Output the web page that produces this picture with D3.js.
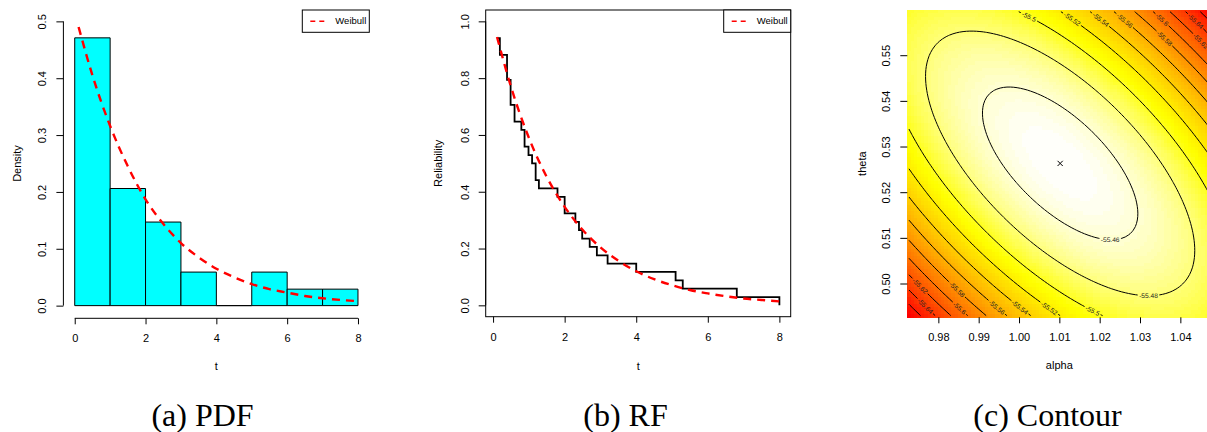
<!DOCTYPE html>
<html>
<head>
<meta charset="utf-8">
<script src="https://cdn.jsdelivr.net/npm/d3@7"></script>
<style>
  body { margin: 0; background: #fff; }
  svg { display: block; font-family: "Liberation Sans", Arial, sans-serif; }
</style>
</head>
<body>
<svg id="fig" width="1207" height="432"></svg>
<script>
// ---- data ----
const histBreaks = [0, 1, 2, 3, 4, 5, 6, 7, 8];
const histDensity = [0.471, 0.206, 0.147, 0.059, 0, 0.059, 0.029, 0.029];

// fitted Weibull curves (read at these t)
const fitTimes = [0.11, 0.5, 1, 1.5, 2, 2.5, 3, 3.5, 4, 4.5, 5, 5.5, 6, 6.5, 7, 7.5, 8];
const fitPdf = [0.490, 0.405, 0.316, 0.245, 0.187, 0.144, 0.110, 0.085, 0.065, 0.050, 0.038, 0.029, 0.023, 0.017, 0.013, 0.010, 0.008];
const fitRel = [0.945, 0.770, 0.590, 0.452, 0.347, 0.266, 0.204, 0.157, 0.120, 0.092, 0.071, 0.054, 0.042, 0.032, 0.024, 0.019, 0.014];

// empirical reliability (step function)
const stepTimes = [0.11, 0.19, 0.39, 0.49, 0.60, 0.79, 0.88, 0.99, 1.09, 1.19, 1.28, 1.80, 2.00, 2.30, 2.40, 2.49, 2.70, 2.90, 3.20, 4.00, 5.10, 5.30, 6.81, 8.00];
const stepRel = [0.941, 0.882, 0.794, 0.706, 0.647, 0.618, 0.559, 0.529, 0.500, 0.441, 0.412, 0.382, 0.324, 0.294, 0.265, 0.235, 0.206, 0.176, 0.147, 0.118, 0.088, 0.059, 0.029, 0.000];

// log-likelihood surface around the MLE
const alphaRange = [0.9723, 1.0477];
const thetaRange = [0.4926, 0.5599];
const mleAlpha = 1.0102, mleTheta = 0.5263;
const maxLogLik = -55.45;
const infoMatrix = [[95, 72], [72, 126]];
const contourLevels = [-55.68, -55.66, -55.64, -55.62, -55.6, -55.58, -55.56, -55.54, -55.52, -55.5, -55.48, -55.46];

const tTicks = [0, 2, 4, 6, 8];
const densityTicks = [0, 0.1, 0.2, 0.3, 0.4, 0.5];
const relTicks = [0, 0.2, 0.4, 0.6, 0.8, 1.0];
const alphaTicks = [0.98, 0.99, 1.00, 1.01, 1.02, 1.03, 1.04];
const thetaTicks = [0.50, 0.51, 0.52, 0.53, 0.54, 0.55];
const captions = ["(a) PDF", "(b) RF", "(c) Contour"];

const svg = d3.select("#fig");
const red = "#FF0000";

function leftAxis(g, scale, ticks, fmt, x) {
  let a = g.append("g").attr("transform", `translate(${x},0)`)
    .call(d3.axisLeft(scale).tickValues(ticks).tickFormat(fmt).tickSize(7).tickSizeOuter(0));
  a.select(".domain").remove();
  a.append("line").attr("y1", scale(ticks[0])).attr("y2", scale(ticks[ticks.length - 1]))
    .attr("stroke", "#000");
  a.selectAll("text").attr("x", null).attr("dy", "0.35em")
    .attr("transform", "translate(-21,0) rotate(-90)")
    .attr("text-anchor", "middle").attr("font-size", 11).attr("font-family", null).attr("fill", "#000");
  a.selectAll(".tick line").attr("stroke", "#000");
  return a;
}

function bottomAxis(g, scale, ticks, fmt, y, line) {
  let a = g.append("g").attr("transform", `translate(0,${y})`)
    .call(d3.axisBottom(scale).tickValues(ticks).tickFormat(fmt).tickSize(6).tickSizeOuter(0));
  a.select(".domain").remove();
  if (line) {
    a.append("line").attr("x1", scale(ticks[0])).attr("x2", scale(ticks[ticks.length - 1]))
      .attr("stroke", "#000");
  }
  a.selectAll("text").attr("y", 20).attr("dy", "0.35em")
    .attr("font-size", 11).attr("font-family", null).attr("fill", "#000");
  a.selectAll(".tick line").attr("stroke", "#000");
  return a;
}

function yTitle(g, text, x, y) {
  g.append("text").attr("transform", `translate(${x},${y}) rotate(-90)`)
    .attr("text-anchor", "middle").attr("dy", "0.35em").attr("font-size", 11).text(text);
}
function xTitle(g, text, x, y) {
  g.append("text").attr("x", x).attr("y", y).attr("text-anchor", "middle")
    .attr("dy", "0.35em").attr("font-size", 11).text(text);
}

function legend(g, right, top) {
  let w = 67, h = 22.3, x = right - w;
  g.append("rect").attr("x", x).attr("y", top).attr("width", w).attr("height", h)
    .attr("fill", "#fff").attr("stroke", "#000");
  g.append("line").attr("x1", x + 8).attr("x2", x + 24).attr("y1", top + h / 2).attr("y2", top + h / 2)
    .attr("stroke", red).attr("stroke-width", 1.5).attr("stroke-dasharray", "5,4");
  g.append("text").attr("x", x + 33).attr("y", top + h / 2).attr("dy", "0.35em")
    .attr("font-size", 9.5).text("Weibull");
}

// ---------------- (a) PDF ----------------
{
  const x0 = 63.4, x1 = 369.3, y0 = 10, y1 = 317;
  const x = d3.scaleLinear().domain([-0.32, 8.32]).range([x0, x1]);
  const y = d3.scaleLinear().domain([-0.02, 0.52]).range([y1, y0]);
  const g = svg.append("g");

  g.selectAll("path.bar").data(histDensity).join("path")
    .attr("class", "bar")
    .attr("d", (d, i) => `M${x(histBreaks[i])},${y(0)}V${y(d)}H${x(histBreaks[i + 1])}V${y(0)}Z`)
    .attr("fill", "#00FFFF").attr("stroke", "#000").attr("stroke-width", 1);

  const line = d3.line().x((d, i) => x(fitTimes[i])).y(d => y(d)).curve(d3.curveMonotoneX);
  g.append("path").attr("d", line(fitPdf)).attr("fill", "none")
    .attr("stroke", red).attr("stroke-width", 2.4).attr("stroke-dasharray", "8,6");

  leftAxis(g, y, densityTicks, d3.format(".1f"), x0);
  bottomAxis(g, x, tTicks, d3.format("d"), 318.3, true);
  yTitle(g, "Density", 16.7, (y0 + y1) / 2);
  xTitle(g, "t", (x0 + x1) / 2, 366);
  legend(g, x1, y0);
}

// ---------------- (b) RF ----------------
{
  const x0 = 485.7, x1 = 790.7, y0 = 10, y1 = 316.7;
  const x = d3.scaleLinear().domain([-0.206, 8.316]).range([x0, x1]);
  const y = d3.scaleLinear().domain([-0.04, 1.04]).range([y1, y0]);
  const g = svg.append("g");

  const step = d3.line().x((d, i) => x(stepTimes[i])).y(d => y(d)).curve(d3.curveStepAfter);
  g.append("path").attr("d", step(stepRel)).attr("fill", "none")
    .attr("stroke", "#000").attr("stroke-width", 1.8);

  const line = d3.line().x((d, i) => x(fitTimes[i])).y(d => y(d)).curve(d3.curveMonotoneX);
  g.append("path").attr("d", line(fitRel)).attr("fill", "none")
    .attr("stroke", red).attr("stroke-width", 2.4).attr("stroke-dasharray", "8,6");

  g.append("rect").attr("x", x0).attr("y", y0).attr("width", x1 - x0).attr("height", y1 - y0)
    .attr("fill", "none").attr("stroke", "#000");

  leftAxis(g, y, relTicks, d3.format(".1f"), x0);
  bottomAxis(g, x, tTicks, d3.format("d"), y1, false);
  yTitle(g, "Reliability", 438.3, (y0 + y1) / 2);
  xTitle(g, "t", (x0 + x1) / 2, 366);
  legend(g, x1, y0);
}

// ---------------- (c) Contour ----------------
{
  const x0 = 907.3, x1 = 1211.4, y0 = 10, y1 = 317.3;
  const x = d3.scaleLinear().domain(alphaRange).range([x0, x1]);
  const y = d3.scaleLinear().domain(thetaRange).range([y1, y0]);
  const g = svg.append("g");

  const nx = 90, ny = 90;
  const cw = (x1 - x0) / nx, ch = (y1 - y0) / ny;
  const da = (alphaRange[1] - alphaRange[0]) / nx, dt = (thetaRange[1] - thetaRange[0]) / ny;
  const vals = new Float64Array(nx * ny);
  for (let j = 0; j < ny; j++) {
    for (let i = 0; i < nx; i++) {
      const u = alphaRange[0] + (i + 0.5) * da - mleAlpha;
      const v = thetaRange[1] - (j + 0.5) * dt - mleTheta;
      vals[j * nx + i] = maxLogLik - 0.5 * (infoMatrix[0][0] * u * u + 2 * infoMatrix[0][1] * u * v + infoMatrix[1][1] * v * v);
    }
  }

  // heat.colors(n) as in R
  function heatColors(n) {
    const jn = Math.floor(n / 4), inn = n - jn, out = [];
    for (let k = 0; k < inn; k++) {
      const h = inn > 1 ? k / (inn - 1) / 6 : 0;
      out.push(d3.rgb(255, Math.round(255 * h * 6), 0).formatHex());
    }
    for (let k = 0; k < jn; k++) {
      const s0 = 1 - 1 / (2 * jn), s1 = 1 / (2 * jn);
      const s = jn > 1 ? s0 + (s1 - s0) * k / (jn - 1) : s0;
      out.push(d3.rgb(255, 255, Math.round(255 * (1 - s))).formatHex());
    }
    return out;
  }
  const pal = heatColors(100);
  const [zmin, zmax] = d3.extent(vals);
  const cells = [];
  for (let j = 0; j < ny; j++) for (let i = 0; i < nx; i++) cells.push([i, j, vals[j * nx + i]]);
  g.append("g").attr("shape-rendering", "crispEdges").selectAll("rect").data(cells).join("rect")
    .attr("x", d => x0 + d[0] * cw).attr("y", d => y0 + d[1] * ch)
    .attr("width", cw + 0.5).attr("height", ch + 0.5)
    .attr("fill", d => pal[Math.min(pal.length - 1, Math.floor((d[2] - zmin) / (zmax - zmin) * pal.length))]);

  // contour lines
  const contours = d3.contours().size([nx, ny]).thresholds(contourLevels)(vals);
  const onEdge = p => p[0] <= 0 || p[0] >= nx || p[1] <= 0 || p[1] >= ny;
  function splitRing(ring) {
    const pts = ring.slice(0, -1);
    const k0 = pts.findIndex(onEdge);
    if (k0 < 0) return [{ pts: ring, closed: true }];
    const out = [];
    let cur = [];
    for (let s = 1; s <= pts.length; s++) {
      const p = pts[(k0 + s) % pts.length];
      if (onEdge(p)) { if (cur.length > 1) out.push({ pts: cur, closed: false }); cur = []; }
      else cur.push(p);
    }
    return out;
  }

  const labelSize = 6.6;
  const meas = g.append("text").attr("font-size", labelSize).attr("visibility", "hidden");
  const placed = [];
  const lineGen = d3.line();
  const lines = g.append("g"), labels = g.append("g");

  function drawPiece(pts, label, w, closed) {
    if (closed) {
      let k = d3.minIndex(pts, p => p[1]);
      const body = pts.slice(0, -1);
      pts = body.slice(k).concat(body.slice(0, k));
      pts.push(pts[0]);
    }
    const s = [0];
    for (let i = 1; i < pts.length; i++) s.push(s[i - 1] + Math.hypot(pts[i][0] - pts[i - 1][0], pts[i][1] - pts[i - 1][1]));
    const L = s[s.length - 1];
    const at = d => {
      let k = d3.bisectRight(s, d) - 1;
      k = Math.max(0, Math.min(pts.length - 2, k));
      const f = (d - s[k]) / ((s[k + 1] - s[k]) || 1);
      return [pts[k][0] + f * (pts[k + 1][0] - pts[k][0]), pts[k][1] + f * (pts[k + 1][1] - pts[k][1])];
    };
    const half = w / 2 + 1.5;
    const cands = [];
    if (L > 2 * half + 4) {
      for (let d = half + 2; d <= L - half - 2; d += 1) {
        const p1 = at(d - w / 2), p2 = at(d + w / 2), pc = at(d);
        const ang = Math.atan2(p2[1] - p1[1], p2[0] - p1[0]);
        cands.push({ d, pc, ang, score: Math.abs(Math.sin(ang)) - 1e-4 * pc[1] });
      }
      cands.sort((a, b) => a.score - b.score);
    }
    let pick = null, box = null;
    for (const c of cands) {
      const ca = Math.abs(Math.cos(c.ang)), sa = Math.abs(Math.sin(c.ang));
      const b = { x: c.pc[0], y: c.pc[1], ex: ca * w / 2 + sa * labelSize / 2 + 1, ey: sa * w / 2 + ca * labelSize / 2 + 1 };
      if (!placed.some(q => Math.abs(q.x - b.x) < q.ex + b.ex && Math.abs(q.y - b.y) < q.ey + b.ey)) { pick = c; box = b; break; }
    }
    if (!pick) {
      lines.append("path").attr("d", lineGen(pts));
      return;
    }
    placed.push(box);
    const a = pick.d - half, b = pick.d + half;
    const part1 = pts.filter((p, i) => s[i] < a).concat([at(a)]);
    const part2 = [at(b)].concat(pts.filter((p, i) => s[i] > b));
    if (part1.length > 1) lines.append("path").attr("d", lineGen(part1));
    if (part2.length > 1) lines.append("path").attr("d", lineGen(part2));
    let deg = pick.ang * 180 / Math.PI;
    if (deg > 90) deg -= 180;
    if (deg < -90) deg += 180;
    labels.append("text")
      .attr("transform", `translate(${pick.pc[0]},${pick.pc[1]}) rotate(${deg})`)
      .attr("text-anchor", "middle").attr("dy", "0.35em")
      .attr("font-size", labelSize).attr("fill", "#222").text(label);
  }

  contours.forEach(c => {
    const label = String(c.value);
    meas.text(label);
    const w = meas.node().getComputedTextLength();
    c.coordinates.forEach(poly => poly.forEach(ring => {
      splitRing(ring).forEach(piece => {
        const pts = piece.pts.map(p => [x0 + p[0] * cw, y0 + p[1] * ch]);
        drawPiece(pts, label, w, piece.closed);
      });
    }));
  });
  lines.selectAll("path").attr("fill", "none").attr("stroke", "#000").attr("stroke-width", 1);

  // MLE marker
  const mx = x(mleAlpha), my = y(mleTheta), r = 2.6;
  g.append("path").attr("d", `M${mx - r},${my - r}L${mx + r},${my + r}M${mx - r},${my + r}L${mx + r},${my - r}`)
    .attr("stroke", "#000").attr("stroke-width", 1);

  let ya = leftAxis(g, y, thetaTicks, d3.format(".2f"), x0);
  ya.select(":scope > line").remove();
  bottomAxis(g, x, alphaTicks, d3.format(".2f"), y1, false);
  yTitle(g, "theta", 861.7, (y0 + y1) / 2);
  xTitle(g, "alpha", 1059.3, 365);
}

// captions
const capX = [202.5, 625.5, 1047.5];
svg.selectAll("text.cap").data(captions).join("text")
  .attr("class", "cap")
  .attr("x", (d, i) => capX[i]).attr("y", 426)
  .attr("text-anchor", "middle")
  .attr("font-family", "'Liberation Serif', 'Times New Roman', serif")
  .attr("font-size", 32)
  .text(d => d);
</script>
</body>
</html>
